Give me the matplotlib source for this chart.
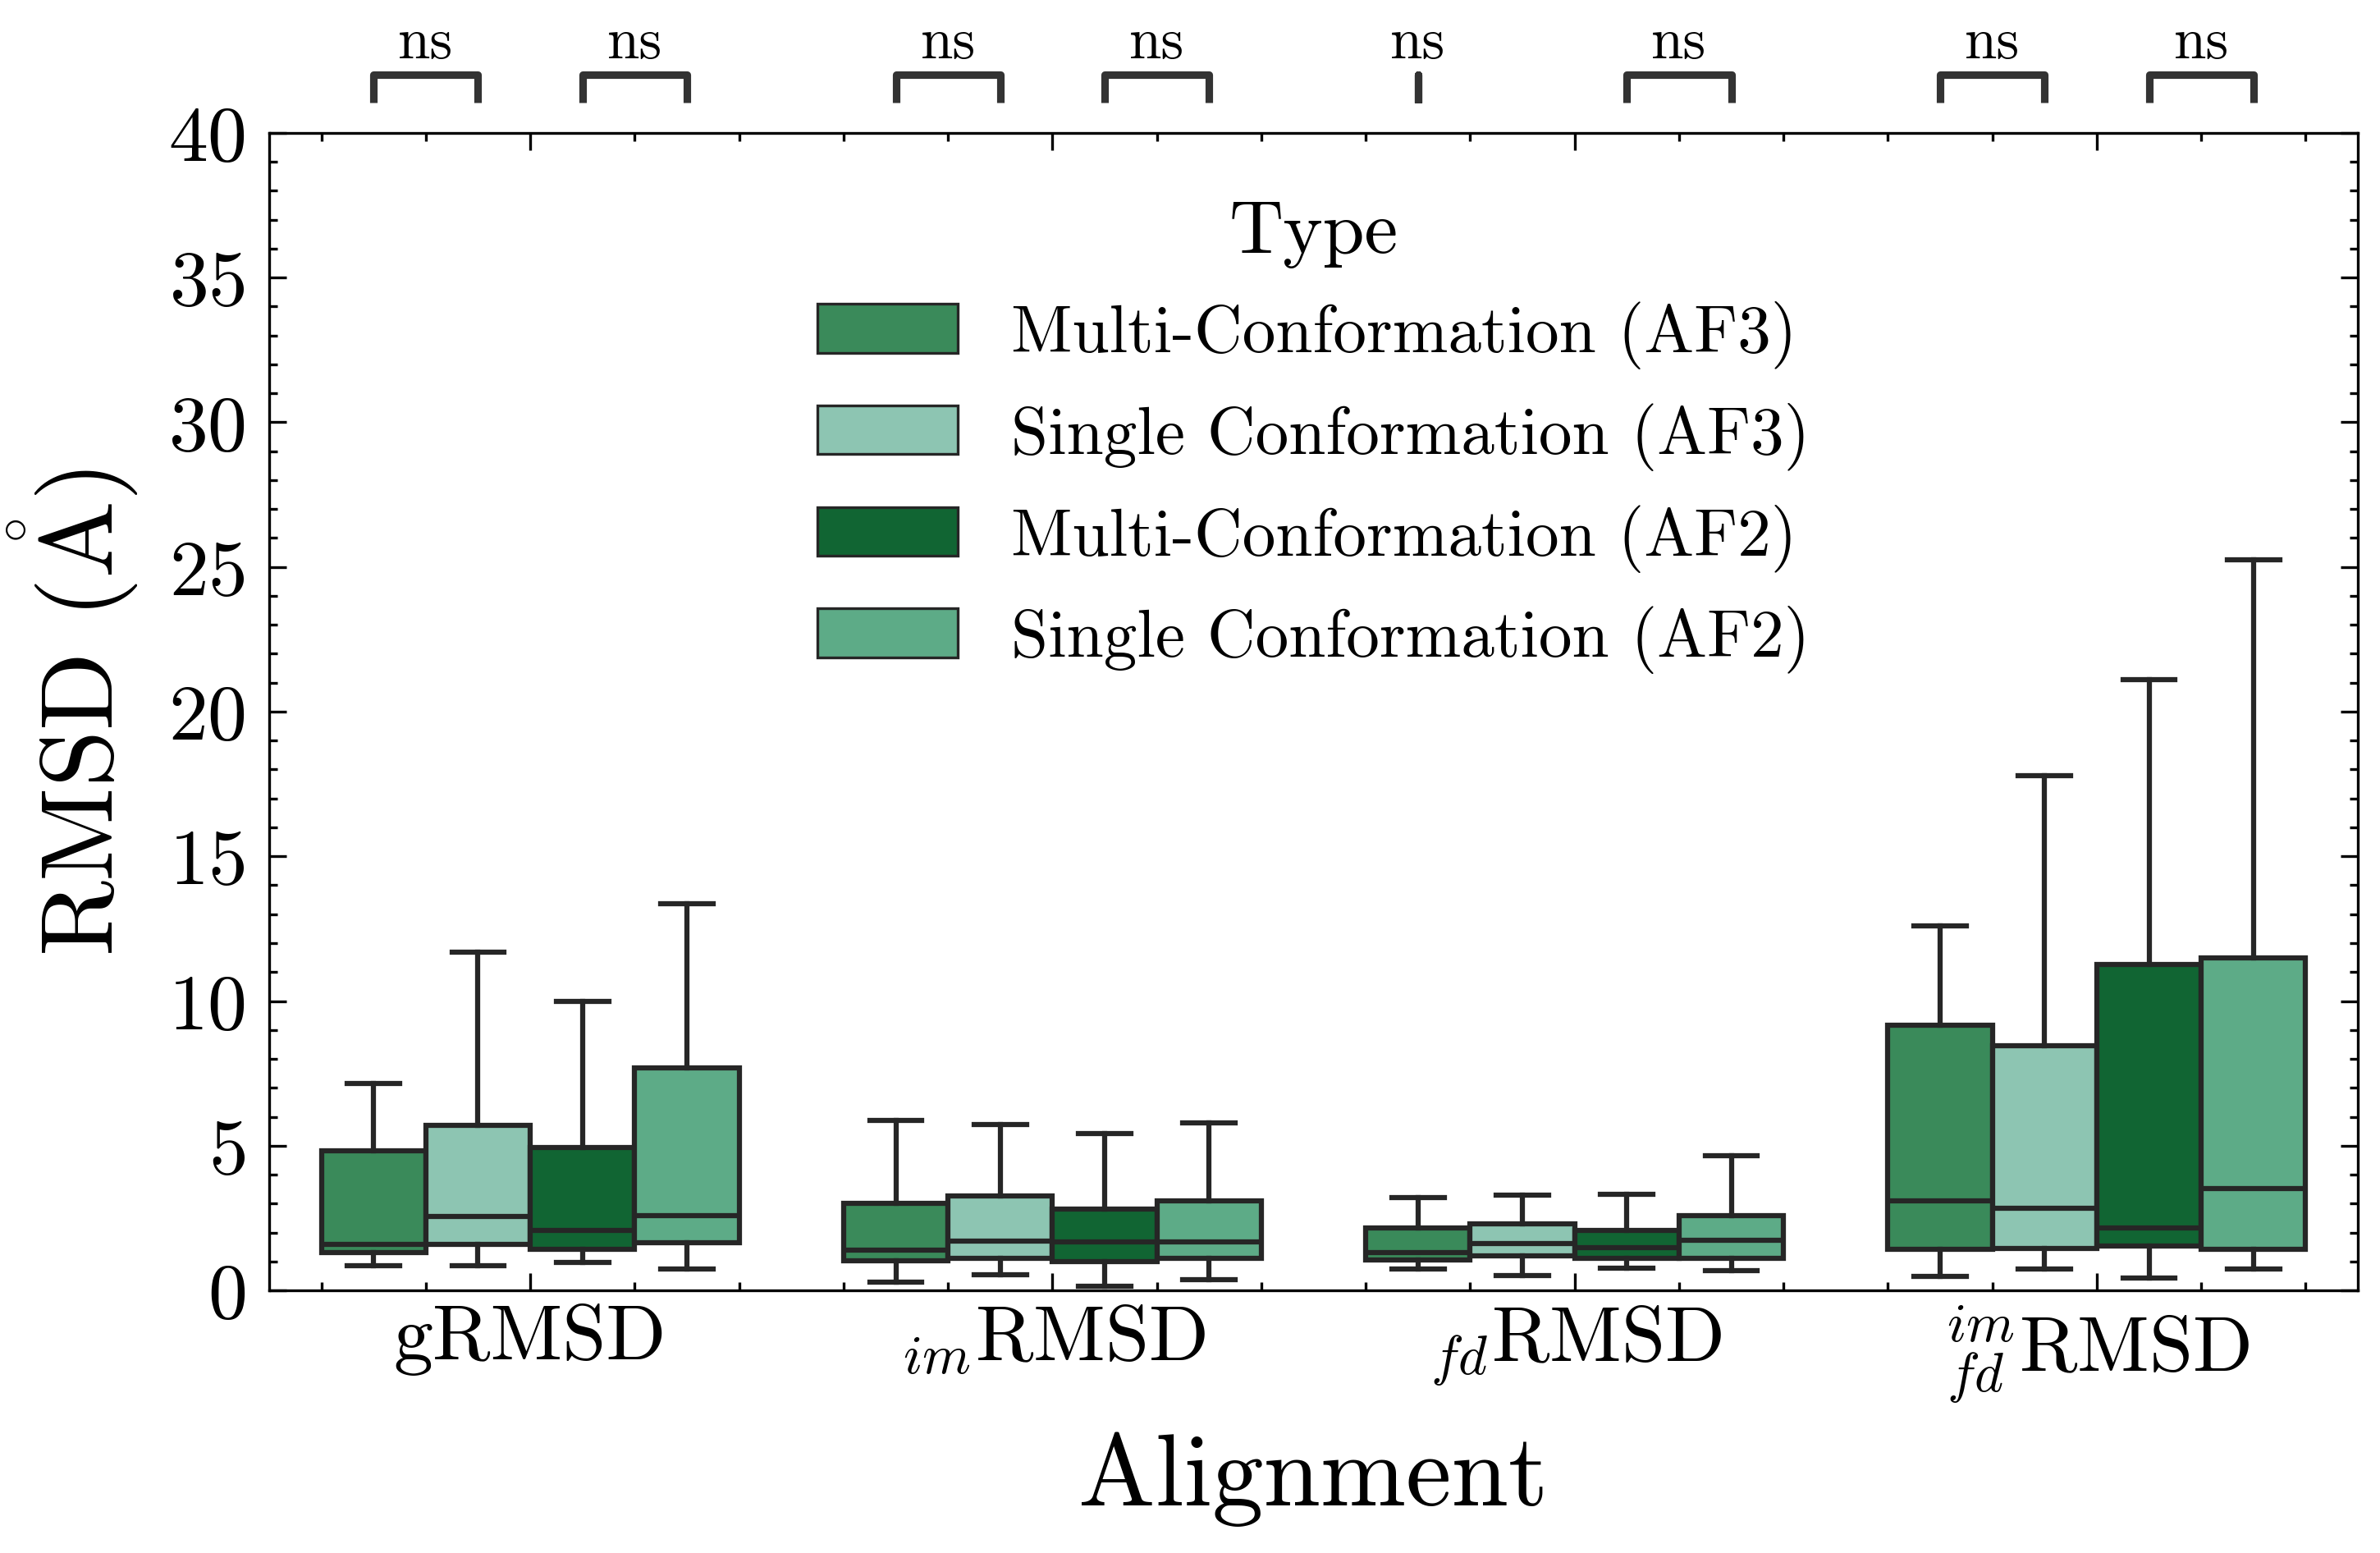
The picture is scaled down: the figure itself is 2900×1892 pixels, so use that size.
import numpy as np
import matplotlib
matplotlib.use("Agg")
import matplotlib.pyplot as plt
from matplotlib.patches import Patch
from matplotlib.ticker import MultipleLocator

# categories on the x axis
categories = ["gRMSD", r"$_{im}$RMSD", r"$_{fd}$RMSD", r"$^{im}_{fd}$RMSD"]
types = ["Multi-Conformation (AF3)", "Single Conformation (AF3)",
         "Multi-Conformation (AF2)", "Single Conformation (AF2)"]
colors = ["#3A8A5A", "#8DC5B2", "#116533", "#5DAB87"]

# box statistics, one value per category
multi_af3_lo = [0.84, 0.30, 0.73, 0.49]
multi_af3_q1 = [1.32, 1.02, 1.04, 1.41]
multi_af3_med = [1.60, 1.38, 1.32, 3.10]
multi_af3_q3 = [4.82, 3.02, 2.16, 9.15]
multi_af3_hi = [7.15, 5.87, 3.22, 12.6]

single_af3_lo = [0.84, 0.53, 0.51, 0.74]
single_af3_q1 = [1.60, 1.12, 1.18, 1.46]
single_af3_med = [2.55, 1.71, 1.63, 2.85]
single_af3_q3 = [5.70, 3.25, 2.30, 8.45]
single_af3_hi = [11.7, 5.72, 3.28, 17.8]

multi_af2_lo = [0.98, 0.15, 0.76, 0.42]
multi_af2_q1 = [1.43, 1.00, 1.12, 1.53]
multi_af2_med = [2.08, 1.67, 1.49, 2.17]
multi_af2_q3 = [4.93, 2.82, 2.08, 11.25]
multi_af2_hi = [10.0, 5.41, 3.31, 21.1]

single_af2_lo = [0.73, 0.36, 0.67, 0.74]
single_af2_q1 = [1.64, 1.12, 1.12, 1.41]
single_af2_med = [2.57, 1.67, 1.72, 3.52]
single_af2_q3 = [7.70, 3.08, 2.59, 11.5]
single_af2_hi = [13.36, 5.78, 4.64, 25.25]

# significance brackets: (category, first box, second box)
bracket_pairs = [(0, 0, 1), (0, 2, 3), (1, 0, 1), (1, 2, 3),
                 (2, 0, 0), (2, 2, 3), (3, 0, 1), (3, 2, 3)]
bracket_labels = ["ns"] * 8

plt.rcParams["font.family"] = "serif"
plt.rcParams["font.serif"] = ["cmr10"]
plt.rcParams["mathtext.fontset"] = "cm"
plt.rcParams["axes.unicode_minus"] = False
plt.rcParams["axes.formatter.use_mathtext"] = True

stats_by_type = [
    (multi_af3_lo, multi_af3_q1, multi_af3_med, multi_af3_q3, multi_af3_hi),
    (single_af3_lo, single_af3_q1, single_af3_med, single_af3_q3, single_af3_hi),
    (multi_af2_lo, multi_af2_q1, multi_af2_med, multi_af2_q3, multi_af2_hi),
    (single_af2_lo, single_af2_q1, single_af2_med, single_af2_q3, single_af2_hi),
]

edge = "#262626"
lw = 1.5
width = 0.2
offsets = [-0.3, -0.1, 0.1, 0.3]

fig = plt.figure(figsize=(2900 / 300, 1893 / 300), dpi=300)
ax = fig.add_axes([0.1131, 0.169, 0.8776, 0.745])

for t, (lo, q1, med, q3, hi) in enumerate(stats_by_type):
    stats = []
    for i in range(len(categories)):
        stats.append(dict(whislo=lo[i], q1=q1[i], med=med[i], q3=q3[i], whishi=hi[i], fliers=[]))
    pos = [i + offsets[t] for i in range(len(categories))]
    ax.bxp(stats, positions=pos, widths=width, patch_artist=True, showfliers=False,
           boxprops=dict(facecolor=colors[t], edgecolor=edge, linewidth=lw),
           medianprops=dict(color=edge, linewidth=lw),
           whiskerprops=dict(color=edge, linewidth=lw),
           capprops=dict(color=edge, linewidth=lw),
           capwidths=width * 0.5, manage_ticks=False)

# brackets above the axes
y_top = 42.0
y_leg = 41.05
for (c, a, b), lab in zip(bracket_pairs, bracket_labels):
    x1 = c + offsets[a]
    x2 = c + offsets[b]
    ax.plot([x1, x1, x2, x2], [y_leg, y_top, y_top, y_leg], color="#333333",
            lw=2.2, clip_on=False, solid_joinstyle="round", solid_capstyle="butt")
    ax.text((x1 + x2) / 2, y_top + 0.22, lab, ha="center", va="bottom", fontsize=17)

ax.set_xlim(-0.5, 3.5)
ax.set_ylim(0, 40)
ax.set_xticks(range(len(categories)))
ax.set_xticklabels(categories)
ax.xaxis.set_minor_locator(MultipleLocator(0.2))
ax.yaxis.set_major_locator(MultipleLocator(5))
ax.yaxis.set_minor_locator(MultipleLocator(1))
ax.tick_params(which="both", direction="in", top=True, right=True, width=0.8, labelsize=23)
ax.tick_params(which="major", length=5)
ax.tick_params(which="minor", length=2.4)
ax.tick_params(axis="y", which="major", pad=7)
for s in ax.spines.values():
    s.set_linewidth(0.8)

ax.set_xlabel("Alignment", fontsize=30, labelpad=8)
ax.set_ylabel(r"RMSD ($\mathring{\mathrm{A}}$)", fontsize=30, labelpad=8)

handles = [Patch(facecolor=colors[t], edgecolor=edge, linewidth=0.8, label=types[t])
           for t in range(len(types))]
leg = ax.legend(handles=handles, title="Type", loc="upper center", bbox_to_anchor=(0.5, 1.0),
                frameon=False, fontsize=19.5, title_fontsize=22, handlelength=2.1,
                handleheight=0.75, handletextpad=0.8, labelspacing=0.5, borderaxespad=0.6)

fig.savefig("out.png", dpi=300)
